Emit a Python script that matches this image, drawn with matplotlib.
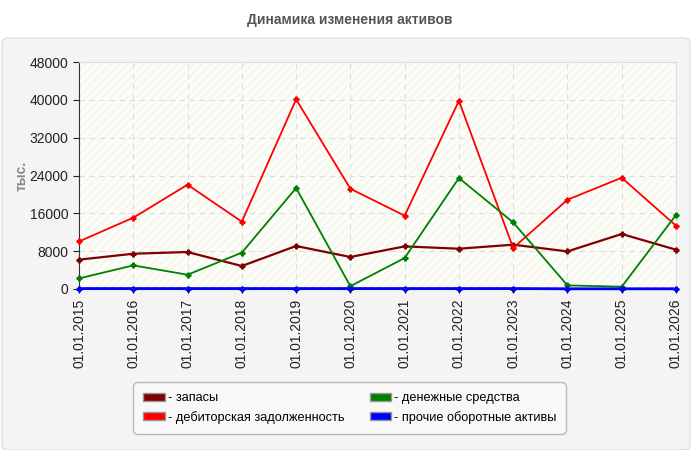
import numpy as np
import matplotlib
matplotlib.use("Agg")
import matplotlib.pyplot as plt
from matplotlib.patches import FancyBboxPatch, Patch

plt.rcParams['font.family'] = ['Liberation Sans', 'DejaVu Sans']

# Данные
dates = ["01.01.2015", "01.01.2016", "01.01.2017", "01.01.2018", "01.01.2019", "01.01.2020",
         "01.01.2021", "01.01.2022", "01.01.2023", "01.01.2024", "01.01.2025", "01.01.2026"]
zapasy = [6200, 7460, 7820, 4860, 9090, 6770, 9010, 8520, 9370, 7950, 11630, 8310]
debitorka = [10050, 15080, 22050, 14230, 40100, 21200, 15500, 39800, 8670, 18880, 23530, 13380]
dengi = [2240, 4990, 3020, 7680, 21350, 600, 6550, 23470, 14080, 760, 490, 15650]
prochie = [100, 100, 100, 100, 100, 100, 100, 100, 100, 50, 50, 50]

series_names = ["запасы", "дебиторская задолженность", "денежные средства", "прочие оборотные активы"]
series_colors = ["#800000", "#ff0000", "#008000", "#0000ff"]

fig = plt.figure(figsize=(7, 4.5), dpi=100)
fig.patch.set_facecolor("white")

# серая подложка
panel = FancyBboxPatch((2 / 700, 0.0), 688 / 700, 412 / 450,
                       boxstyle="round,pad=0,rounding_size=0.01",
                       transform=fig.transFigure, facecolor="#f4f4f4",
                       edgecolor="#e0e0e0", linewidth=1, zorder=-5)
fig.patches.append(panel)

fig.text(0.5, 1 - 20 / 450, "Динамика изменения активов", ha="center", va="center",
         fontsize=10, fontweight="bold", color="#555555")

ax = fig.add_axes([79 / 700, 1 - 289 / 450, 597 / 700, 227 / 450])
ax.set_facecolor("#fdfdf8")
ax.patch.set_hatch("////")
ax.patch.set_edgecolor("#f5f5ef")
ax.patch.set_linewidth(0)

x = np.arange(len(dates))
for vals, col, lw in zip([zapasy, debitorka, dengi, prochie], series_colors, [1.6, 1.3, 1.3, 2.0]):
    ax.plot(x, vals, color=col, linewidth=lw, marker="P", markersize=3.5, zorder=3, clip_on=False)

ax.set_xlim(0, len(dates) - 1)
ax.set_ylim(0, 48000)
ax.set_yticks(np.arange(0, 48001, 8000))
ax.set_xticks(x)
ax.set_xticklabels(dates, rotation=90, fontsize=10, color="#222222")
ax.tick_params(axis="y", labelsize=10, colors="#222222", length=4)
ax.tick_params(axis="x", length=3, pad=4)
ax.grid(color="#dddddd", linestyle=(0, (5, 4)), linewidth=0.8)
ax.set_axisbelow(True)

for side in ["top", "right"]:
    ax.spines[side].set_color("#dddddd")
ax.spines["left"].set_color("#333333")
ax.spines["bottom"].set_color("#333333")

ax.set_ylabel("тыс.", fontsize=10, fontweight="bold", color="#888888", labelpad=1)

handles = [Patch(facecolor=c, edgecolor="#999999", label="- " + n) for n, c in zip(series_names, series_colors)]
leg = fig.legend(handles=handles, ncol=2, loc="upper left",
                 bbox_to_anchor=(133 / 700, 1 - 382 / 450), borderaxespad=0, fontsize=9.2,
                 frameon=True, handlelength=1.7, handleheight=0.6, handletextpad=0.2,
                 columnspacing=2.0, labelspacing=0.5, borderpad=0.8)
leg.get_frame().set_facecolor("#fafafa")
leg.get_frame().set_edgecolor("#aaaaaa")
leg.get_frame().set_boxstyle("round,pad=0,rounding_size=0.4")

fig.savefig("out.png", dpi=100, facecolor=fig.get_facecolor())
